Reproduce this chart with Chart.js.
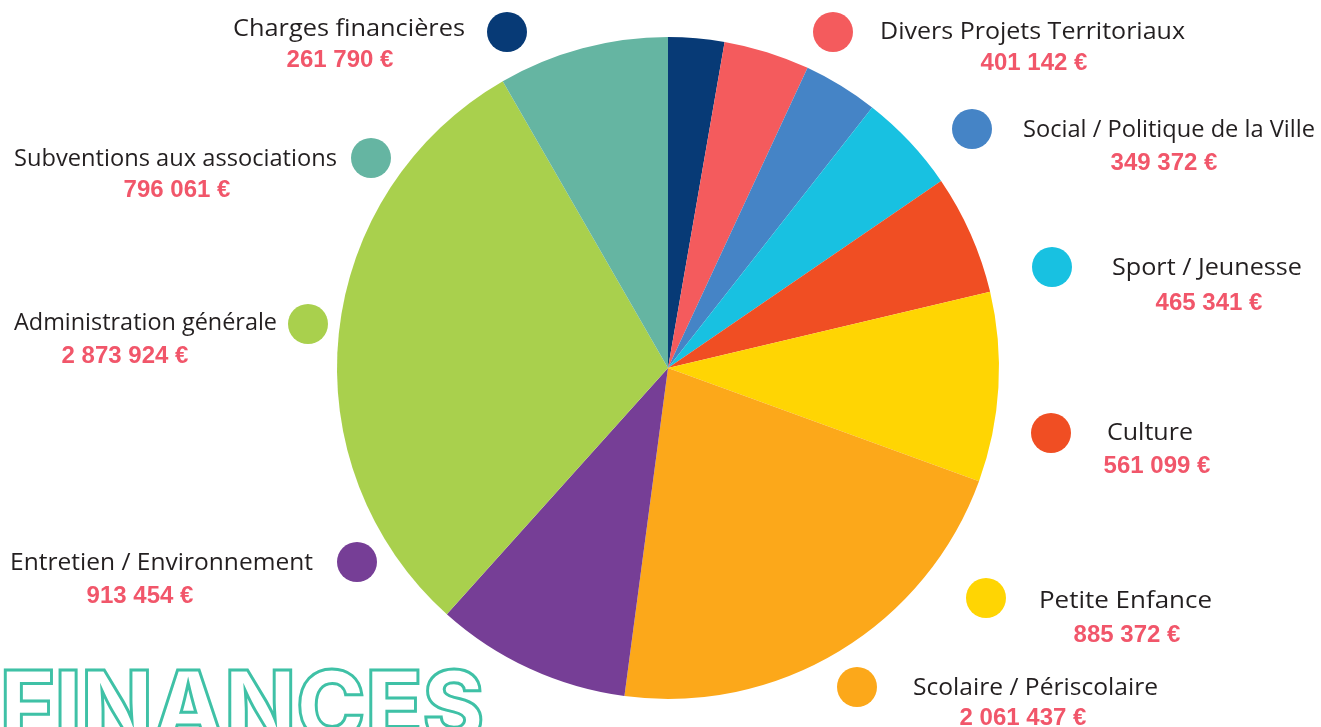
<!DOCTYPE html>
<html>
<head>
<meta charset="utf-8">
<script src="https://cdn.jsdelivr.net/npm/chart.js@4.4.1/dist/chart.umd.min.js"></script>
<style>
  html, body { margin: 0; padding: 0; background: #ffffff; overflow: hidden; }
  #wrap { position: relative; width: 1321px; height: 727px; }
  canvas { display: block; }
</style>
</head>
<body>
<div id="wrap"><canvas id="chart" width="1321" height="727"></canvas></div>
<script>
// ---- data ----
const categories = [
  'Charges financières',
  'Divers Projets Territoriaux',
  'Social / Politique de la Ville',
  'Sport / Jeunesse',
  'Culture',
  'Petite Enfance',
  'Scolaire / Périscolaire',
  'Entretien / Environnement',
  'Administration générale',
  'Subventions aux associations'
];
const amounts = [261790, 401142, 349372, 465341, 561099, 885372, 2061437, 913454, 2873924, 796061];
const sliceColors = ['#073a76', '#f45b5d', '#4584c6', '#18c1e1', '#f04e23', '#ffd503', '#fca81a', '#763e96', '#a9d04d', '#65b5a2'];
const titleText = 'FINANCES';

// ---- label layout (positions only) ----
const labelLayout = [
  { dot: [507, 32],  name: [233, 36, 232],   value: [340, 67] },
  { dot: [833, 32],  name: [880, 39, 305],   value: [1034, 70] },
  { dot: [972, 129], name: [1023, 137, 292], value: [1164, 170] },
  { dot: [1052, 267], name: [1112, 275, 190], value: [1209, 310] },
  { dot: [1051, 433], name: [1107, 440, 86],  value: [1157, 473] },
  { dot: [986, 598], name: [1039, 608, 173], value: [1127, 642] },
  { dot: [857, 687], name: [913, 695, 245],  value: [1023, 725] },
  { dot: [357, 562], name: [10, 570, 303],   value: [140, 603] },
  { dot: [308, 324], name: [14, 330, 263],   value: [125, 363] },
  { dot: [371, 158], name: [14, 166, 323],   value: [177, 197] }
];

function formatEuro(v) {
  return String(v).replace(/\B(?=(\d{3})+(?!\d))/g, ' ') + ' €';
}

const labelPlugin = {
  id: 'labelPlugin',
  afterDraw(chart) {
    const ctx = chart.ctx;
    const colors = chart.data.datasets[0].backgroundColor;
    ctx.save();
    chart.data.labels.forEach((lab, i) => {
      const L = labelLayout[i];
      // dot
      ctx.beginPath();
      ctx.arc(L.dot[0], L.dot[1], 20, 0, Math.PI * 2);
      ctx.fillStyle = colors[i];
      ctx.fill();
      // name
      ctx.font = '24px "Open Sans", "Lato", sans-serif';
      ctx.fillStyle = '#231f20';
      ctx.textBaseline = 'alphabetic';
      ctx.textAlign = 'left';
      const w = ctx.measureText(lab).width;
      const sx = L.name[2] / w;
      ctx.save();
      ctx.translate(L.name[0], L.name[1]);
      ctx.scale(sx, 1);
      ctx.fillText(lab, 0, 0);
      ctx.restore();
      // value
      ctx.font = 'bold 24px "Liberation Sans", Arial, sans-serif';
      ctx.fillStyle = '#f1566a';
      ctx.textAlign = 'center';
      ctx.fillText(formatEuro(chart.data.datasets[0].data[i]), L.value[0], L.value[1]);
    });
    // big outlined title
    ctx.font = '800 96px "Inter", "Liberation Sans", sans-serif';
    ctx.textAlign = 'left';
    ctx.textBaseline = 'alphabetic';
    const tw = ctx.measureText(titleText).width;
    ctx.save();
    ctx.translate(0, 740);
    ctx.scale(484 / tw, 1);
    ctx.lineWidth = 3;
    ctx.lineJoin = 'miter';
    ctx.strokeStyle = '#3fc1a6';
    ctx.strokeText(titleText, 0, 0);
    ctx.restore();
    ctx.restore();
  }
};

new Chart(document.getElementById('chart'), {
  type: 'pie',
  data: {
    labels: categories,
    datasets: [{
      data: amounts,
      backgroundColor: sliceColors,
      borderWidth: 0,
      hoverOffset: 0
    }]
  },
  options: {
    responsive: false,
    animation: false,
    layout: { padding: { left: 337, right: 322, top: 37, bottom: 28 } },
    plugins: {
      legend: { display: false },
      tooltip: { enabled: false }
    }
  },
  plugins: [labelPlugin]
});
</script>
</body>
</html>
